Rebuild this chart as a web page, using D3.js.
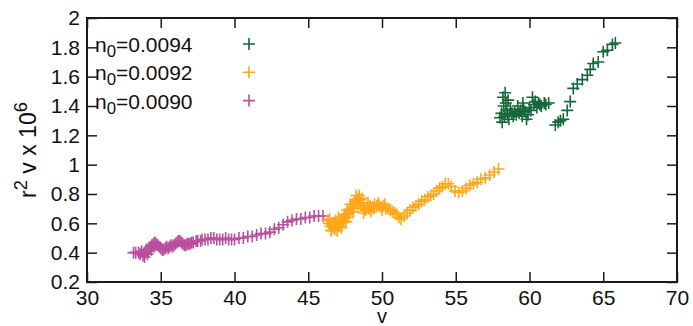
<!DOCTYPE html>
<html>
<head>
<meta charset="utf-8">
<script src="https://cdn.jsdelivr.net/npm/d3@7"></script>
<style>
  html, body { margin: 0; padding: 0; background: #fff; }
  svg { display: block; }
  text { font-family: "Liberation Sans", Arial, Helvetica, sans-serif; fill: #111; }
</style>
</head>
<body>
<svg id="chart" width="693" height="326"></svg>
<script>
// Axis ticks
const xTicks = [30, 35, 40, 45, 50, 55, 60, 65, 70];
const yTicks = [0.2, 0.4, 0.6, 0.8, 1.0, 1.2, 1.4, 1.6, 1.8, 2.0];

// Series labels and colours
const seriesNames = ["0.0094", "0.0092", "0.0090"];
const seriesColors = ["#16683a", "#ffa71a", "#b94f9e"];

// n0 = 0.0094
const v0094 = [58.0, 58.1, 58.15, 58.2, 58.25, 58.3, 58.35, 58.4, 58.45, 58.5, 58.55, 58.6, 58.7, 58.8, 58.9, 59.0, 59.1, 59.2, 59.3, 59.4, 59.5, 59.55, 59.6, 59.7, 59.8, 59.9, 60.0, 60.1, 60.2, 60.3, 60.4, 60.5, 60.6, 60.7, 60.8, 61.0, 61.1, 61.3, 61.75, 61.95, 62.1, 62.29, 62.56, 62.76, 62.97, 63.24, 63.58, 63.92, 64.12, 64.32, 64.66, 65.0, 65.28, 65.62, 65.82];
const r0094 = [1.32, 1.35, 1.29, 1.46, 1.40, 1.33, 1.49, 1.42, 1.37, 1.34, 1.44, 1.31, 1.38, 1.35, 1.33, 1.36, 1.34, 1.40, 1.35, 1.37, 1.33, 1.42, 1.38, 1.36, 1.31, 1.34, 1.39, 1.37, 1.46, 1.41, 1.43, 1.39, 1.42, 1.41, 1.40, 1.42, 1.41, 1.42, 1.27, 1.29, 1.30, 1.31, 1.37, 1.43, 1.52, 1.55, 1.58, 1.61, 1.65, 1.69, 1.70, 1.77, 1.78, 1.82, 1.83];

// n0 = 0.0092
const v0092 = [46.3, 46.4, 46.45, 46.5, 46.55, 46.6, 46.7, 46.75, 46.8, 46.85, 46.9, 46.95, 47.0, 47.05, 47.1, 47.15, 47.2, 47.25, 47.3, 47.4, 47.45, 47.5, 47.55, 47.6, 47.65, 47.7, 47.75, 47.8, 47.85, 47.9, 48.0, 48.05, 48.1, 48.15, 48.2, 48.25, 48.3, 48.35, 48.4, 48.45, 48.5, 48.55, 48.6, 48.65, 48.7, 48.75, 48.8, 48.9, 49.0, 49.05, 49.1, 49.2, 49.25, 49.35, 49.45, 49.5, 49.65, 49.75, 49.8, 49.95, 50.0, 50.1, 50.2, 50.25, 50.4, 50.55, 50.7, 50.85, 51.0, 51.15, 51.3, 51.5, 51.7, 51.9, 52.1, 52.3, 52.5, 52.7, 52.9, 53.1, 53.3, 53.5, 53.7, 53.9, 54.1, 54.3, 54.5, 54.7, 54.95, 55.2, 55.45, 55.7, 55.95, 56.2, 56.45, 56.7, 57.0, 57.3, 57.6, 57.9];
const r0092 = [0.62, 0.60, 0.63, 0.58, 0.55, 0.60, 0.57, 0.60, 0.56, 0.62, 0.59, 0.55, 0.61, 0.64, 0.58, 0.62, 0.60, 0.57, 0.63, 0.62, 0.66, 0.65, 0.61, 0.66, 0.69, 0.64, 0.67, 0.68, 0.73, 0.70, 0.71, 0.68, 0.73, 0.75, 0.74, 0.79, 0.76, 0.73, 0.77, 0.79, 0.76, 0.72, 0.74, 0.77, 0.72, 0.67, 0.70, 0.69, 0.71, 0.74, 0.70, 0.72, 0.68, 0.71, 0.70, 0.73, 0.72, 0.74, 0.72, 0.71, 0.69, 0.72, 0.73, 0.70, 0.70, 0.69, 0.68, 0.67, 0.66, 0.64, 0.63, 0.65, 0.67, 0.69, 0.71, 0.72, 0.73, 0.75, 0.76, 0.78, 0.79, 0.80, 0.82, 0.84, 0.85, 0.87, 0.87, 0.85, 0.82, 0.81, 0.82, 0.84, 0.86, 0.87, 0.88, 0.90, 0.91, 0.93, 0.95, 0.97];

// n0 = 0.0090
const v0090 = [33.15, 33.3, 33.5, 33.6, 33.7, 33.8, 33.9, 33.95, 34.0, 34.1, 34.15, 34.2, 34.3, 34.35, 34.4, 34.5, 34.55, 34.6, 34.7, 34.8, 34.9, 35.0, 35.1, 35.2, 35.3, 35.4, 35.5, 35.6, 35.7, 35.8, 35.9, 36.0, 36.1, 36.2, 36.3, 36.4, 36.5, 36.6, 36.7, 36.8, 36.9, 37.0, 37.1, 37.2, 37.4, 37.5, 37.7, 37.8, 38.0, 38.2, 38.4, 38.6, 38.8, 39.0, 39.2, 39.4, 39.6, 39.8, 40.0, 40.3, 40.6, 40.9, 41.2, 41.5, 41.8, 42.1, 42.4, 42.7, 43.0, 43.3, 43.6, 43.9, 44.2, 44.5, 44.8, 45.1, 45.4, 45.7, 46.0];
const r0090 = [0.40, 0.40, 0.40, 0.39, 0.41, 0.38, 0.37, 0.40, 0.42, 0.39, 0.41, 0.43, 0.44, 0.42, 0.45, 0.46, 0.44, 0.47, 0.46, 0.45, 0.44, 0.43, 0.42, 0.42, 0.43, 0.44, 0.43, 0.44, 0.45, 0.44, 0.45, 0.46, 0.47, 0.48, 0.48, 0.47, 0.46, 0.45, 0.45, 0.46, 0.46, 0.46, 0.47, 0.47, 0.48, 0.48, 0.48, 0.49, 0.49, 0.49, 0.50, 0.50, 0.49, 0.49, 0.49, 0.50, 0.49, 0.49, 0.49, 0.50, 0.50, 0.51, 0.51, 0.52, 0.53, 0.53, 0.54, 0.56, 0.57, 0.59, 0.61, 0.62, 0.63, 0.63, 0.64, 0.64, 0.65, 0.65, 0.65];

const seriesV = [v0094, v0092, v0090];
const seriesR = [r0094, r0092, r0090];

const svg = d3.select("#chart");
const margin = { left: 87, right: 16, top: 18, bottom: 44 };
const W = 693, H = 326;

const x = d3.scaleLinear().domain([30, 70]).range([margin.left, W - margin.right]);
const y = d3.scaleLinear().domain([0.2, 2.0]).range([H - margin.bottom, margin.top]);

const fontSize = 21;
const tickLen = 10;
const axisColor = "#1a1a1a";

// Axes with inward ticks, mirrored on top and right
const fmtY = d => (d === 1 || d === 2) ? String(d) : d3.format(".1f")(d);

const gx = svg.append("g").attr("transform", `translate(0,${y(0.2)})`)
  .call(d3.axisBottom(x).tickValues(xTicks).tickSizeInner(-tickLen).tickSizeOuter(0).tickPadding(8).tickFormat(d3.format("d")));
const gx2 = svg.append("g").attr("transform", `translate(0,${y(2.0)})`)
  .call(d3.axisTop(x).tickValues(xTicks).tickSizeInner(-tickLen).tickSizeOuter(0).tickFormat(""));
const gy = svg.append("g").attr("transform", `translate(${x(30)},0)`)
  .call(d3.axisLeft(y).tickValues(yTicks).tickSizeInner(-tickLen).tickSizeOuter(0).tickPadding(7).tickFormat(fmtY));
const gy2 = svg.append("g").attr("transform", `translate(${x(70)},0)`)
  .call(d3.axisRight(y).tickValues(yTicks).tickSizeInner(-tickLen).tickSizeOuter(0).tickFormat(""));

[gx, gx2, gy, gy2].forEach(g => {
  g.select(".domain").remove();
  g.selectAll(".tick line").attr("stroke", axisColor).attr("stroke-width", 1.5);
  g.selectAll(".tick text").attr("font-size", fontSize).attr("fill", "#111")
    .style("font-family", '"Liberation Sans", Arial, sans-serif');
});

// Plot border
svg.append("rect")
  .attr("x", x(30)).attr("y", y(2.0))
  .attr("width", x(70) - x(30)).attr("height", y(0.2) - y(2.0))
  .attr("fill", "none").attr("stroke", axisColor).attr("stroke-width", 2);

// Axis titles
svg.append("text")
  .attr("x", x(50)).attr("y", 323)
  .attr("text-anchor", "middle").attr("font-size", 20)
  .text("v");

const ylSize = 23;
const yl = svg.append("text")
  .attr("transform", `translate(36,${(y(0.2) + y(2.0)) / 2}) rotate(-90)`)
  .attr("text-anchor", "middle").attr("font-size", ylSize);
yl.append("tspan").text("r");
yl.append("tspan").attr("font-size", ylSize * 0.8).attr("dy", -9).text("2");
yl.append("tspan").attr("dy", 9).text(" v x 10");
yl.append("tspan").attr("font-size", ylSize * 0.8).attr("dy", -9).text("6");

// Plus-sign markers
const half = 6;
function plus(g, cx, cy, color) {
  g.append("path")
    .attr("d", `M${cx - half},${cy}H${cx + half}M${cx},${cy - half}V${cy + half}`)
    .attr("stroke", color).attr("stroke-width", 1.6).attr("fill", "none");
}

const plot = svg.append("g");
// purple first, then orange, then green on top
[2, 1, 0].forEach(i => {
  const g = plot.append("g");
  seriesV[i].forEach((v, k) => plus(g, x(v), y(seriesR[i][k]), seriesColors[i]));
});

// Legend
const legend = svg.append("g");
seriesNames.forEach((name, i) => {
  const base = 52 + i * 28.3;
  const t = legend.append("text").attr("x", 95).attr("y", base).attr("font-size", fontSize);
  t.append("tspan").text("n");
  t.append("tspan").attr("font-size", fontSize * 0.8).attr("dy", 5).text("0");
  t.append("tspan").attr("dy", -5).text("=" + name);
  plus(legend, 249, base - 8, seriesColors[i]);
});
</script>
</body>
</html>
